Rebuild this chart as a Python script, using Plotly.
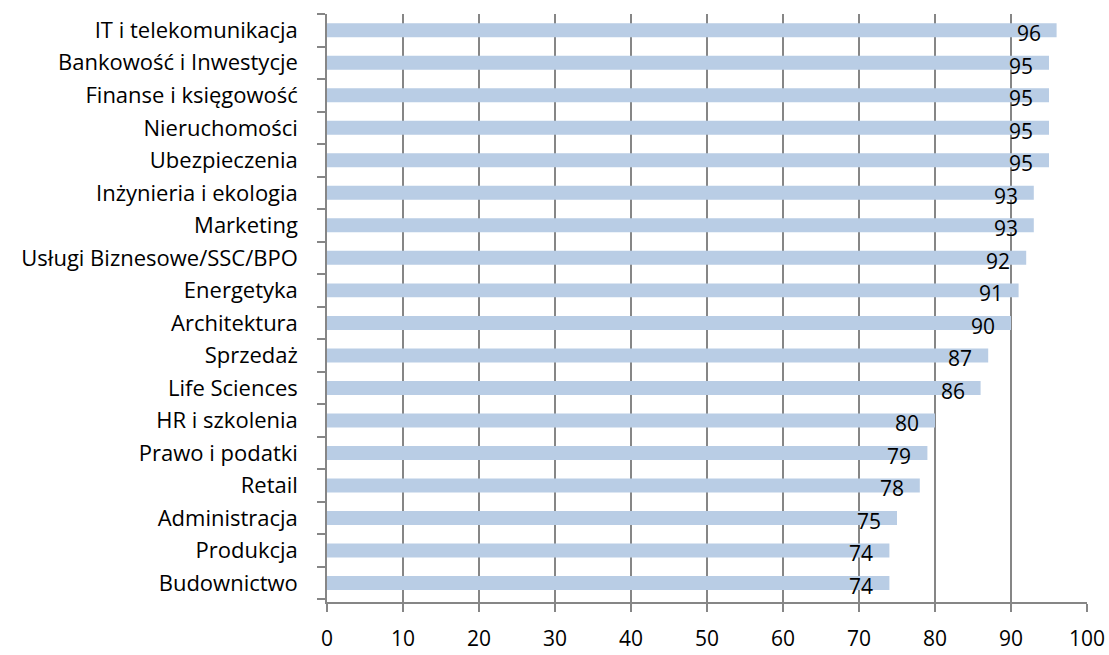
import plotly.graph_objects as go

categories = [
    "IT i telekomunikacja", "Bankowość i Inwestycje", "Finanse i księgowość",
    "Nieruchomości", "Ubezpieczenia", "Inżynieria i ekologia", "Marketing",
    "Usługi Biznesowe/SSC/BPO", "Energetyka", "Architektura", "Sprzedaż",
    "Life Sciences", "HR i szkolenia", "Prawo i podatki", "Retail",
    "Administracja", "Produkcja", "Budownictwo",
]
values = [96, 95, 95, 95, 95, 93, 93, 92, 91, 90, 87, 86, 80, 79, 78, 75, 74, 74]
x_ticks = [0, 10, 20, 30, 40, 50, 60, 70, 80, 90, 100]

FONT = "Open Sans"
GRID = "#868686"

fig = go.Figure()
fig.add_trace(go.Bar(
    x=values,
    y=categories,
    orientation="h",
    marker=dict(color="#B9CDE5", line=dict(width=0)),
    hoverinfo="x+y",
))

# value labels sit just inside the bar end, as in the original
for cat, v in zip(categories, values):
    fig.add_annotation(
        x=v, y=cat, text=str(v), showarrow=False,
        xanchor="center", yanchor="middle", xshift=-28, yshift=-3,
        font=dict(family=FONT, size=21, color="#000000"),
    )

fig.update_layout(
    width=1109,
    height=655,
    margin=dict(l=327, r=22, t=14, b=53),
    plot_bgcolor="white",
    paper_bgcolor="white",
    bargap=0.57,
    showlegend=False,
    font=dict(family=FONT, size=21, color="#000000"),
    xaxis=dict(
        range=[0, 100],
        tickvals=x_ticks,
        automargin=False,
        showgrid=True,
        gridcolor=GRID,
        gridwidth=1.5,
        zeroline=False,
        showline=True,
        linecolor=GRID,
        linewidth=1.5,
        ticks="outside",
        ticklen=8,
        tickcolor=GRID,
        tickwidth=1.5,
        ticklabelstandoff=9,
        tickfont=dict(family=FONT, size=21),
    ),
    yaxis=dict(
        categoryorder="array",
        categoryarray=categories[::-1],
        automargin=False,
        showline=True,
        linecolor=GRID,
        linewidth=1.5,
        ticks="outside",
        tickson="boundaries",
        ticklen=8,
        tickcolor=GRID,
        tickwidth=1.5,
        showgrid=False,
        ticklabelstandoff=23,
        tickfont=dict(family=FONT, size=22),
    ),
)

# drop the default body margin so the figure fills the window exactly
fig.write_html(
    "out.html",
    config={"displayModeBar": False},
    post_script="document.body.style.margin='0';",
)
